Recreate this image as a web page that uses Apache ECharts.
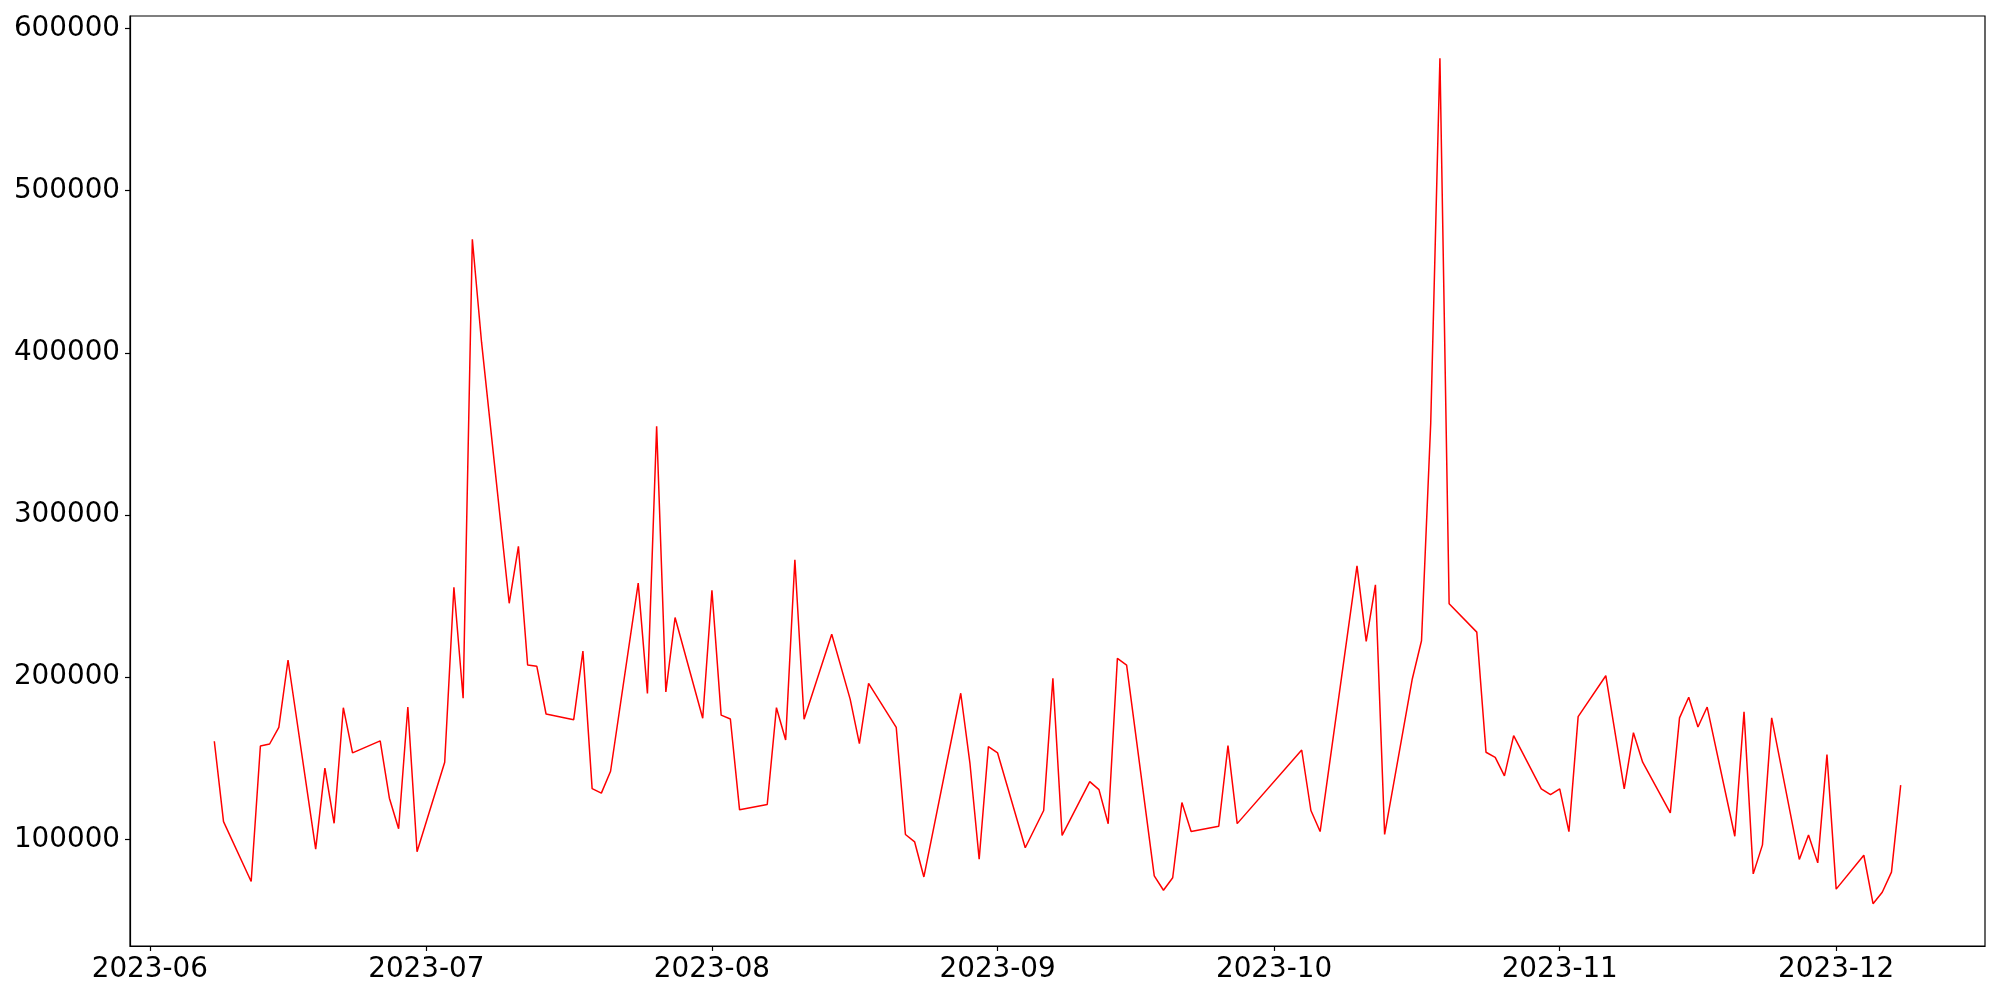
<!DOCTYPE html>
<html><head><meta charset="utf-8">
<script src="https://cdn.jsdelivr.net/npm/echarts@6/dist/echarts.min.js"></script>
<style>html,body{margin:0;padding:0;background:#fff}#c{width:2000px;height:1000px}</style>
</head><body><div id="c"></div>
<script>
const dates = [
'2023-06-08','2023-06-09','2023-06-12','2023-06-13','2023-06-14','2023-06-15','2023-06-16',
'2023-06-19','2023-06-20','2023-06-21','2023-06-22','2023-06-23','2023-06-26','2023-06-27',
'2023-06-28','2023-06-29','2023-06-30','2023-07-03','2023-07-04','2023-07-05','2023-07-06',
'2023-07-07','2023-07-10','2023-07-11','2023-07-12','2023-07-13','2023-07-14','2023-07-17',
'2023-07-18','2023-07-19','2023-07-20','2023-07-21','2023-07-24','2023-07-25','2023-07-26',
'2023-07-27','2023-07-28','2023-07-31','2023-08-01','2023-08-02','2023-08-03','2023-08-04',
'2023-08-07','2023-08-08','2023-08-09','2023-08-10','2023-08-11','2023-08-14','2023-08-16',
'2023-08-17','2023-08-18','2023-08-21','2023-08-22','2023-08-23','2023-08-24','2023-08-28',
'2023-08-29','2023-08-30','2023-08-31','2023-09-01','2023-09-04','2023-09-06','2023-09-07',
'2023-09-08','2023-09-11','2023-09-12','2023-09-13','2023-09-14','2023-09-15','2023-09-18',
'2023-09-19','2023-09-20','2023-09-21','2023-09-22','2023-09-25','2023-09-26','2023-09-27',
'2023-10-04','2023-10-05','2023-10-06','2023-10-10','2023-10-11','2023-10-12','2023-10-13',
'2023-10-16','2023-10-17','2023-10-18','2023-10-19','2023-10-20','2023-10-23','2023-10-24',
'2023-10-25','2023-10-26','2023-10-27','2023-10-30','2023-10-31','2023-11-01','2023-11-02',
'2023-11-03','2023-11-06','2023-11-08','2023-11-09','2023-11-10','2023-11-13','2023-11-14',
'2023-11-15','2023-11-16','2023-11-17','2023-11-20','2023-11-21','2023-11-22','2023-11-23',
'2023-11-24','2023-11-27','2023-11-28','2023-11-29','2023-11-30','2023-12-01','2023-12-04',
'2023-12-05','2023-12-06','2023-12-07','2023-12-08'
];
const values = [
160500,110900,74000,157600,158800,169100,210600,
94000,143900,109900,181200,153300,160700,125400,
106500,181600,92400,147600,255500,187000,470100,
406600,245600,280700,207500,206700,177300,173800,
216100,131300,128500,142000,258000,190000,354800,
190900,236800,174700,253600,176600,174200,118200,
121500,181200,161300,272400,174100,226500,186500,
159000,196200,169000,103000,98400,76800,190100,
146800,87700,157200,153300,94800,117800,199300,
102400,135600,130700,109600,211600,207500,77500,
68600,76300,122700,104800,108100,157800,109700,
155100,117800,104800,268700,222100,257000,103000,
198900,222500,356500,581700,245300,227800,153700,
150600,139100,164000,131100,127600,131100,104800,
175700,200900,131100,165800,147600,116300,174900,
187600,169300,181600,101900,178600,78700,96600,
174900,87600,102700,85500,152300,69300,90200,
60300,67400,79800,133400
];
const yTicks = [100000,200000,300000,400000,500000,600000];
const xTickLabels = ['2023-06','2023-07','2023-08','2023-09','2023-10','2023-11','2023-12'];

function parseLocal(s){ const p=s.split('-').map(Number); return new Date(p[0],p[1]-1,p[2]||1).getTime(); }
const t0 = parseLocal(dates[0]), t1 = parseLocal(dates[dates.length-1]);
const span = t1 - t0;
const xMin = t0 - span*0.05, xMax = t1 + span*0.05;
const vMin = Math.min(...values), vMax = Math.max(...values);
const yMin = vMin - (vMax-vMin)*0.05, yMax = vMax + (vMax-vMin)*0.05;
const xTickVals = xTickLabels.map(parseLocal);
const seriesData = dates.map((d,i)=>[parseLocal(d), values[i]]);

const font = 'DejaVu Sans';
const chart = echarts.init(document.getElementById('c'), null, {renderer:'canvas'});
chart.setOption({
  animation:false,
  backgroundColor:'#fff',
  grid:{left:130,right:15,top:16,bottom:54,show:true,borderColor:'#000',borderWidth:1.2,backgroundColor:'transparent'},
  xAxis:{
    type:'value', min:xMin, max:xMax, scale:true,
    axisLine:{show:true,onZero:false,lineStyle:{color:'#000',width:1.2}},
    axisTick:{show:true,inside:false,length:5,lineStyle:{color:'#000',width:1.2},customValues:xTickVals},
    axisLabel:{show:true,color:'#000',fontFamily:font,fontSize:27.8,margin:10,hideOverlap:false,
      showMinLabel:true,showMaxLabel:true,
      customValues:xTickVals,
      formatter:function(v){ const d=new Date(v); const m=d.getMonth()+1; return d.getFullYear()+'-'+(m<10?'0':'')+m; }},
    splitLine:{show:false}
  },
  yAxis:{
    type:'value', min:yMin, max:yMax, scale:true,
    axisLine:{show:true,onZero:false,lineStyle:{color:'#000',width:1.2}},
    axisTick:{show:true,inside:false,length:5,lineStyle:{color:'#000',width:1.2},customValues:yTicks},
    axisLabel:{show:true,color:'#000',fontFamily:font,fontSize:27.8,margin:10,customValues:yTicks,
      formatter:function(v){return String(Math.round(v));}},
    splitLine:{show:false}
  },
  series:[{
    type:'line', data:seriesData, showSymbol:false, symbol:'none',
    lineStyle:{color:'#ff0000',width:1.5}, itemStyle:{color:'#ff0000'}
  }]
});
</script>
</body></html>
